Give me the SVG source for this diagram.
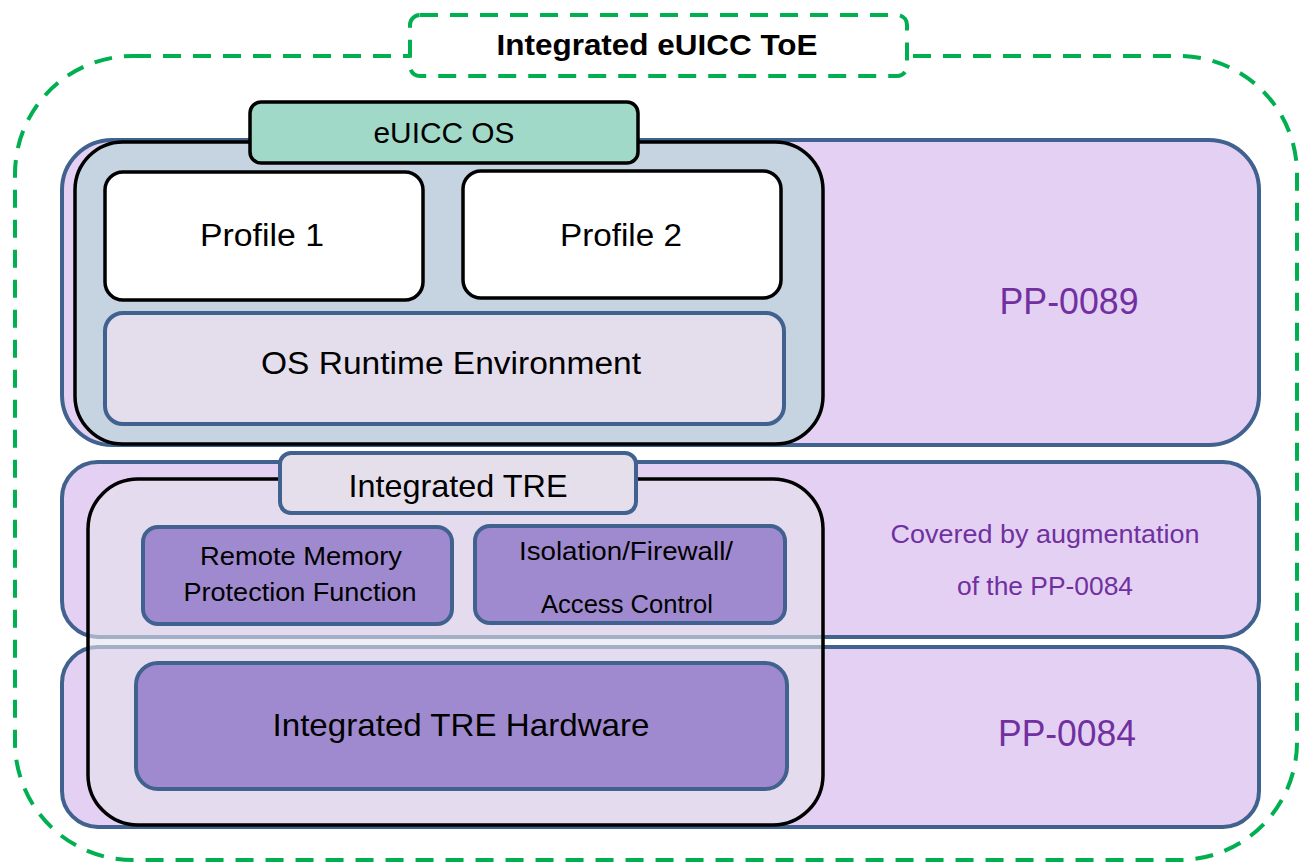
<svg xmlns="http://www.w3.org/2000/svg" width="1299" height="862" viewBox="0 0 1299 862">
<style>
text{font-family:"Liberation Sans",Arial,sans-serif;text-anchor:middle;fill:#000}
.dash{fill:#fff;stroke:#00B050;stroke-width:4;stroke-dasharray:18 12}
.band{fill:#E4D0F2;stroke:#41618F;stroke-width:4}
.blk{stroke:#000;stroke-width:3.5}
.blu{stroke:#41618F;stroke-width:4}
.pur{fill:#A08ACF}
.pp{fill:#7030A0}
</style>
<rect width="1299" height="862" fill="#fff"/>
<g id="toe">
<rect class="dash" x="15" y="56" width="1282" height="804" rx="118"/>
<rect class="dash" x="410" y="15" width="497" height="61" rx="10"/>
<text x="657" y="55" font-size="30" font-weight="bold" textLength="321" lengthAdjust="spacingAndGlyphs">Integrated eUICC ToE</text>
</g>
<g id="pp0089">
<rect class="band" x="62" y="140" width="1197" height="305" rx="50"/>
<text class="pp" x="1069" y="314" font-size="37" textLength="139" lengthAdjust="spacingAndGlyphs">PP-0089</text>
</g>
<g id="augmentation">
<rect class="band" x="62" y="462" width="1197" height="175" rx="36"/>
<text class="pp" x="1045" y="543" font-size="25" textLength="309" lengthAdjust="spacingAndGlyphs">Covered by augmentation</text>
<text class="pp" x="1045" y="595" font-size="25" textLength="176" lengthAdjust="spacingAndGlyphs">of the PP-0084</text>
</g>
<g id="pp0084">
<rect class="band" x="62" y="647" width="1197" height="180" rx="36"/>
<text class="pp" x="1067" y="746" font-size="37" textLength="138" lengthAdjust="spacingAndGlyphs">PP-0084</text>
</g>
<g id="euicc-os">
<rect class="blk" x="75" y="142" width="748" height="302" rx="48" fill="#C5D4E0"/>
<rect class="blk" x="250" y="102" width="388" height="61" rx="11" fill="#A1D9C9"/>
<text x="444" y="143" font-size="30" textLength="141" lengthAdjust="spacingAndGlyphs">eUICC OS</text>
</g>
<g id="profile1">
<rect class="blk" x="105" y="172" width="318" height="128" rx="18" fill="#fff"/>
<text x="262" y="246" font-size="31" textLength="124" lengthAdjust="spacingAndGlyphs">Profile 1</text>
</g>
<g id="profile2">
<rect class="blk" x="463" y="171" width="318" height="127" rx="18" fill="#fff"/>
<text x="621" y="246" font-size="31" textLength="122" lengthAdjust="spacingAndGlyphs">Profile 2</text>
</g>
<g id="os-runtime">
<rect class="blu" x="105" y="313" width="679" height="111" rx="18" fill="#E4DEEC"/>
<text x="451" y="374" font-size="31" textLength="380" lengthAdjust="spacingAndGlyphs">OS Runtime Environment</text>
</g>
<g id="integrated-tre">
<rect class="blk" x="88" y="479" width="735" height="346" rx="50" fill="#E4E2EC" fill-opacity="0.6"/>
<rect class="blu" x="280" y="453" width="356" height="60" rx="11" fill="#E4DFEB"/>
<text x="458" y="497" font-size="32" textLength="219" lengthAdjust="spacingAndGlyphs">Integrated TRE</text>
</g>
<g id="remote-memory">
<rect class="blu pur" x="143" y="527" width="309" height="97" rx="15"/>
<text x="301" y="565" font-size="25" textLength="202" lengthAdjust="spacingAndGlyphs">Remote Memory</text>
<text x="300" y="601" font-size="25" textLength="233" lengthAdjust="spacingAndGlyphs">Protection Function</text>
</g>
<g id="isolation">
<rect class="blu pur" x="475" y="526" width="310" height="97" rx="15"/>
<text x="626" y="560" font-size="25" textLength="214" lengthAdjust="spacingAndGlyphs">Isolation/Firewall/</text>
<text x="627" y="613" font-size="25" textLength="172" lengthAdjust="spacingAndGlyphs">Access Control</text>
</g>
<g id="tre-hardware">
<rect class="blu pur" x="136" y="663" width="651" height="126" rx="22"/>
<text x="461" y="736" font-size="32" textLength="377" lengthAdjust="spacingAndGlyphs">Integrated TRE Hardware</text>
</g>
<g id="connectors"></g>
</svg>
